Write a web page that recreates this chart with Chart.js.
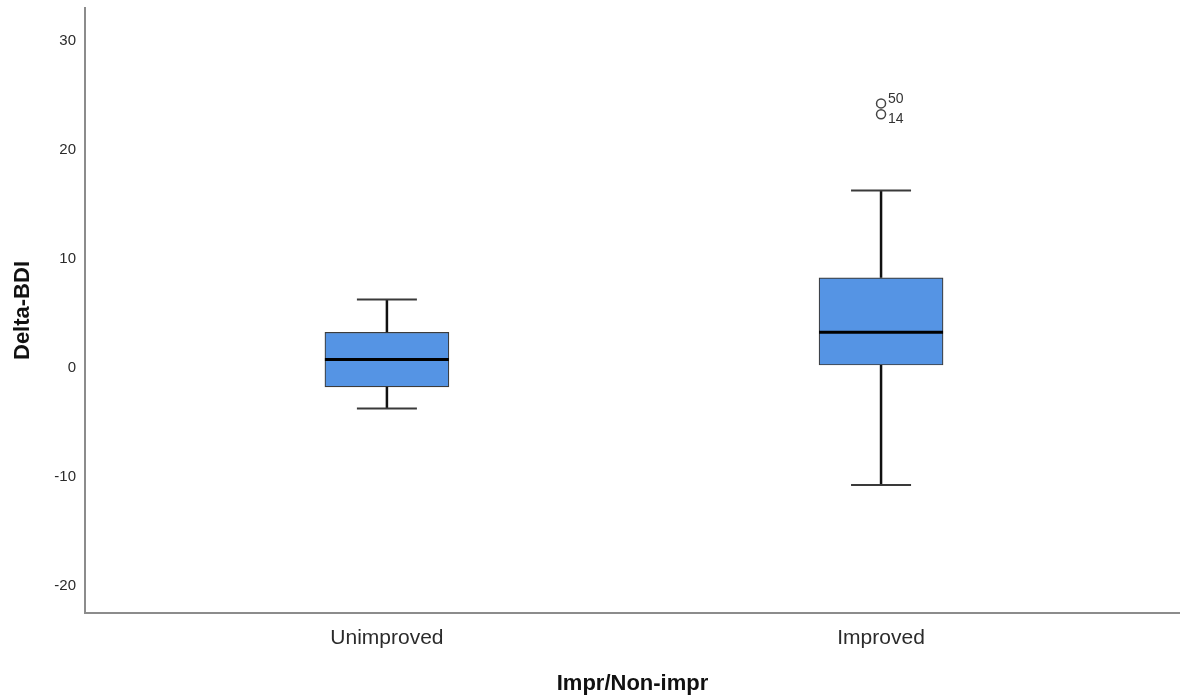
<!DOCTYPE html>
<html>
<head>
<meta charset="utf-8">
<script src="https://cdn.jsdelivr.net/npm/chart.js@4.4.1/dist/chart.umd.min.js"></script>
<style>
  html, body { margin: 0; padding: 0; background: #ffffff; }
  #wrap { width: 1180px; height: 699px; }
</style>
</head>
<body>
<div id="wrap"><canvas id="chart" width="1180" height="699"></canvas></div>
<script>
// Delta-BDI by improvement group: box plot summary values
const categories = ['Unimproved', 'Improved'];
const whiskerLow = [-4, -11];
const q1 = [-2, 0];
const median = [0.5, 3];
const q3 = [3, 8];
const whiskerHigh = [6, 16];

// Outlying cases (category index, value, case number)
const outlierCategory = [1, 1];
const outlierValues = [24, 23];
const outlierLabels = ['50', '14'];

const yTicks = [-20, -10, 0, 10, 20, 30];

const boxData = categories.map((c, i) => ({ x: i, y: [q1[i], q3[i]] }));
const outlierData = outlierValues.map((v, i) => ({ x: outlierCategory[i], y: v }));

const noPadding = () => ({ left: 0, top: 0, right: 0, bottom: 0 });

// Whiskers, caps and medians drawn through the chart's scales
const boxWhiskerPlugin = {
  id: 'boxWhiskers',
  afterDatasetsDraw(chart) {
    const { ctx, scales: { x, y } } = chart;
    const capHalf = 30;
    const boxHalf = 62;
    ctx.save();
    categories.forEach((c, i) => {
      const px = x.getPixelForValue(i);
      const yLo = y.getPixelForValue(whiskerLow[i]);
      const yQ1 = y.getPixelForValue(q1[i]);
      const yQ3 = y.getPixelForValue(q3[i]);
      const yHi = y.getPixelForValue(whiskerHigh[i]);
      const yMed = y.getPixelForValue(median[i]);
      // vertical whisker stems
      ctx.strokeStyle = '#111111';
      ctx.lineWidth = 2.5;
      ctx.beginPath();
      ctx.moveTo(px, yHi); ctx.lineTo(px, yQ3);
      ctx.moveTo(px, yQ1); ctx.lineTo(px, yLo);
      ctx.stroke();
      // caps
      ctx.strokeStyle = '#3a3a3a';
      ctx.lineWidth = 2;
      ctx.beginPath();
      ctx.moveTo(px - capHalf, yHi); ctx.lineTo(px + capHalf, yHi);
      ctx.moveTo(px - capHalf, yLo); ctx.lineTo(px + capHalf, yLo);
      ctx.stroke();
      // median
      ctx.strokeStyle = '#000000';
      ctx.lineWidth = 3;
      ctx.beginPath();
      ctx.moveTo(px - boxHalf, yMed); ctx.lineTo(px + boxHalf, yMed);
      ctx.stroke();
    });
    // case numbers beside the outliers
    const meta = chart.getDatasetMeta(1);
    ctx.fillStyle = '#333333';
    ctx.font = '14px "Liberation Sans", Arial, sans-serif';
    ctx.textAlign = 'left';
    ctx.textBaseline = 'middle';
    meta.data.forEach((pt, i) => {
      const dy = i === 0 ? -4 : 5;
      ctx.fillText(outlierLabels[i], pt.x + 7, pt.y + dy);
    });
    ctx.restore();
  }
};

new Chart(document.getElementById('chart'), {
  type: 'bar',
  data: {
    datasets: [
      {
        type: 'bar',
        data: boxData,
        backgroundColor: '#5594E4',
        borderColor: '#3c3c3c',
        borderWidth: 1.2,
        borderSkipped: false,
        barThickness: 124,
        order: 2
      },
      {
        type: 'scatter',
        data: outlierData,
        pointStyle: 'circle',
        pointRadius: 4.5,
        pointBorderWidth: 1.5,
        pointBorderColor: '#444444',
        pointBackgroundColor: 'rgba(255,255,255,0)',
        order: 1
      }
    ]
  },
  options: {
    responsive: false,
    animation: false,
    layout: { autoPadding: false, padding: { top: 8, right: 0, bottom: 0, left: 0 } },
    plugins: {
      legend: { display: false },
      tooltip: { enabled: false }
    },
    scales: {
      x: {
        type: 'linear',
        offset: false,
        min: -0.611,
        max: 1.605,
        grid: { display: false, drawTicks: false },
        border: { display: true, color: '#8c8c8c', width: 2 },
        afterBuildTicks: (scale) => { scale.ticks = categories.map((c, i) => ({ value: i })); },
        afterFit: (scale) => { scale.height = 86; scale.getPadding = noPadding; },
        ticks: {
          padding: 13,
          color: '#2b2b2b',
          font: { family: '"Liberation Sans", Arial, sans-serif', size: 21 },
          callback: (v) => categories[v]
        },
        title: {
          display: true,
          text: 'Impr/Non-impr',
          color: '#111111',
          font: { family: '"Liberation Sans", Arial, sans-serif', size: 22, weight: 'bold' },
          padding: { top: 0, bottom: 2 }
        }
      },
      y: {
        type: 'linear',
        min: -22.75,
        max: 32.75,
        grid: { display: false, drawTicks: false },
        border: { display: true, color: '#8c8c8c', width: 2 },
        afterBuildTicks: (scale) => { scale.ticks = yTicks.map(v => ({ value: v })); },
        afterFit: (scale) => { scale.width = 85; scale.getPadding = noPadding; },
        ticks: {
          padding: 9,
          labelOffset: 3,
          color: '#2b2b2b',
          font: { family: '"Liberation Sans", Arial, sans-serif', size: 15 }
        },
        title: {
          display: true,
          text: 'Delta-BDI',
          color: '#111111',
          font: { family: '"Liberation Sans", Arial, sans-serif', size: 22, weight: 'bold' },
          padding: { top: 10, bottom: 0 }
        }
      }
    }
  },
  plugins: [boxWhiskerPlugin]
});
</script>
</body>
</html>
